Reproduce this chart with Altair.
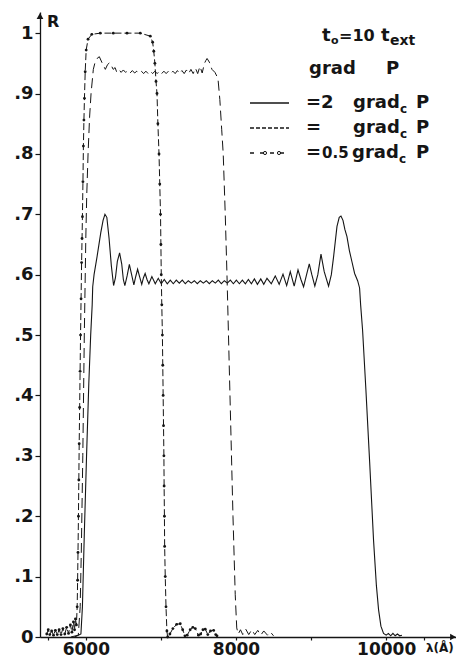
import altair as alt
import pandas as pd

# ---- data ----
# solid: grad P = 2 grad_c P
sol_lam = [5850, 5900, 5935, 5955, 5980, 6010, 6040, 6065, 6085, 6092, 6110, 6150, 6200, 6230, 6255,
           6280, 6310, 6340, 6370, 6395, 6420, 6450, 6478, 6500, 6520, 6550, 6580, 6610, 6640, 6665,
           6690, 6718, 6745, 6768, 6790, 6815, 6840, 6880, 6925, 6965, 7005, 7045, 7085, 7125, 7165,
           7205, 7245, 7285, 7325, 7365, 7405, 7445, 7485, 7525, 7565, 7605, 7645, 7685, 7725, 7765,
           7805, 7845, 7885, 7925, 7965, 8005, 8045, 8085, 8125, 8165, 8205, 8245, 8285, 8330, 8370,
           8413, 8470, 8523, 8575, 8626, 8675, 8723, 8775, 8826, 8865, 8900, 8940, 8976, 9010, 9050,
           9090, 9132, 9175, 9233, 9270, 9300, 9345, 9375, 9398, 9425, 9450, 9478, 9510, 9545, 9580,
           9620, 9646, 9660, 9686, 9730, 9780, 9832, 9870, 9899, 9930, 9965, 10000, 10030, 10060,
           10090, 10120, 10150, 10180, 10210]
sol_R = [0.0, 0.003, 0.005, 0.05, 0.17, 0.30, 0.42, 0.50, 0.55, 0.58, 0.60, 0.63, 0.67, 0.69, 0.70,
         0.695, 0.66, 0.615, 0.582, 0.595, 0.622, 0.636, 0.618, 0.592, 0.582, 0.598, 0.617, 0.600, 0.583, 0.597,
         0.609, 0.596, 0.584, 0.595, 0.602, 0.592, 0.585, 0.597, 0.585, 0.594, 0.585, 0.592, 0.585, 0.591, 0.585,
         0.591, 0.586, 0.591, 0.585, 0.590, 0.586, 0.590, 0.585, 0.590, 0.586, 0.590, 0.585, 0.590, 0.586, 0.591,
         0.585, 0.590, 0.586, 0.591, 0.585, 0.591, 0.585, 0.591, 0.585, 0.592, 0.585, 0.593, 0.584, 0.593, 0.584,
         0.594, 0.585, 0.598, 0.584, 0.601, 0.582, 0.605, 0.581, 0.608, 0.592, 0.580, 0.600, 0.618, 0.600, 0.581,
         0.600, 0.634, 0.605, 0.581, 0.600, 0.630, 0.680, 0.695, 0.697, 0.690, 0.675, 0.663, 0.640, 0.621, 0.602,
         0.590, 0.578, 0.550, 0.508, 0.410, 0.290, 0.160, 0.085, 0.045, 0.018, 0.006, 0.003, 0.006, 0.002,
         0.006, 0.002, 0.005, 0.002, 0.003]

# dashed: grad P = grad_c P
dsh_lam = [5800, 5900, 5925, 5940, 5960, 5980, 6000, 6012, 6030, 6050, 6070, 6100, 6120, 6150, 6180,
           6220, 6260, 6290, 6317, 6345, 6365, 6390, 6410, 6440, 6470, 6500, 6530, 6560, 6590, 6620,
           6650, 6680, 6710, 6740, 6770, 6800, 6830, 6860, 6890, 6920, 6950, 6980, 7010, 7040, 7070,
           7100, 7130, 7160, 7190, 7220, 7250, 7280, 7310, 7340, 7370, 7400, 7430, 7460, 7490, 7520,
           7550, 7580, 7600, 7615, 7645, 7680, 7720, 7760, 7785, 7810, 7830, 7857, 7880, 7920, 7960,
           7990, 8010, 8030, 8060, 8090, 8130, 8170, 8210, 8250, 8290, 8330, 8370, 8420, 8460, 8500]
dsh_R = [0.0, 0.003, 0.05, 0.14, 0.30, 0.50, 0.66, 0.73, 0.80, 0.86, 0.90, 0.94, 0.95, 0.958, 0.961,
         0.950, 0.940, 0.948, 0.951, 0.945, 0.940, 0.943, 0.936, 0.940, 0.935, 0.939, 0.935, 0.938, 0.934, 0.938,
         0.934, 0.937, 0.934, 0.937, 0.933, 0.937, 0.933, 0.937, 0.933, 0.937, 0.933, 0.937, 0.933, 0.937, 0.933,
         0.937, 0.933, 0.937, 0.933, 0.938, 0.933, 0.938, 0.933, 0.939, 0.933, 0.940, 0.933, 0.942, 0.933, 0.945,
         0.934, 0.950, 0.955, 0.958, 0.952, 0.940, 0.935, 0.925, 0.890, 0.840, 0.800, 0.700, 0.600, 0.400, 0.200,
         0.070, 0.015, 0.005, 0.012, 0.004, 0.013, 0.004, 0.012, 0.004, 0.011, 0.003, 0.010, 0.003, 0.008, 0.002]

# dash-dot with dots: grad P = 0.5 grad_c P
dd_lam = [5480, 5500, 5520, 5545, 5570, 5595, 5620, 5645, 5670, 5695, 5720, 5745, 5770, 5795, 5815,
          5835, 5850, 5862, 5875, 5885, 5891, 5896, 5902, 5907, 5912, 5918, 5924, 5930, 5937, 5944,
          5950, 5955, 5962, 5968, 5975, 5982, 5992, 6005, 6030, 6080, 6193, 6366, 6549, 6726, 6859,
          6890, 6905, 6920, 6935, 6948, 6960, 6975, 6985, 6995, 7000, 7005, 7012, 7020, 7025, 7030,
          7035, 7040, 7043, 7047, 7050, 7058, 7068, 7080, 7090, 7120, 7160, 7210, 7258, 7290, 7320,
          7350, 7390, 7425, 7458, 7500, 7530, 7560, 7591, 7625, 7660, 7702, 7730, 7747]
dd_R = [0.005, 0.012, 0.004, 0.010, 0.003, 0.011, 0.004, 0.012, 0.004, 0.014, 0.005, 0.016, 0.006, 0.020, 0.008,
        0.025, 0.012, 0.030, 0.020, 0.050, 0.094, 0.14, 0.20, 0.26, 0.32, 0.38, 0.44, 0.50, 0.56, 0.62,
        0.66, 0.696, 0.754, 0.813, 0.856, 0.892, 0.936, 0.972, 0.990, 0.998, 1.0, 1.0, 1.0, 1.0, 0.995,
        0.985, 0.970, 0.950, 0.920, 0.900, 0.850, 0.800, 0.750, 0.700, 0.650, 0.600, 0.550, 0.500, 0.450, 0.400,
        0.350, 0.300, 0.250, 0.200, 0.150, 0.100, 0.050, 0.010, 0.0, 0.005, 0.014, 0.021, 0.022, 0.012, 0.002,
        0.003, 0.012, 0.016, 0.014, 0.003, 0.005, 0.012, 0.013, 0.004, 0.010, 0.011, 0.004, 0.002]

x_ticks = [5500, 6000, 7000, 8000, 9000, 10000, 10500]
y_ticks = [0, 0.05, 0.1, 0.15, 0.2, 0.25, 0.3, 0.35, 0.4, 0.45, 0.5, 0.55, 0.6, 0.65, 0.7,
           0.75, 0.8, 0.85, 0.9, 0.95, 1.0]

INK = "#151515"
FONT = "DejaVu Sans"
W, H = 416, 625

xs = alt.Scale(domain=[5390, 10930], nice=False, zero=False)
ys = alt.Scale(domain=[0, 1.035], nice=False, zero=True)

xax = alt.Axis(values=x_ticks, labelExpr="datum.value % 2000 == 0 ? toString(datum.value) : ''",
               title=None, grid=False, domainColor=INK, domainWidth=1.3, tickColor=INK,
               tickSize=3, tickWidth=1.2, labelPadding=1, labelFont=FONT, labelFontWeight="bold",
               labelFontSize=17, labelColor=INK, labelFlush=False, labelOverlap=False)
yax = alt.Axis(values=y_ticks,
               labelExpr="datum.value == 0 ? '0' : (datum.value == 1 ? '1' : (round(datum.value*100) % 10 == 0 ? replace(format(datum.value, '.1f'), '0.', '.') : ''))",
               title=None, grid=False, domainColor=INK, domainWidth=1.3, tickColor=INK,
               tickSize=5, tickWidth=1.2, labelPadding=2, labelFont=FONT, labelFontWeight="bold",
               labelFontSize=18, labelColor=INK, labelOverlap=False)

sol = pd.DataFrame({"lam": sol_lam, "R": sol_R})
dsh = pd.DataFrame({"lam": dsh_lam, "R": dsh_R})
dd = pd.DataFrame({"lam": dd_lam, "R": dd_R})

enc = dict(x=alt.X("lam:Q", scale=xs, axis=xax), y=alt.Y("R:Q", scale=ys, axis=yax))
enc2 = dict(x=alt.X("lam:Q", scale=xs), y=alt.Y("R:Q", scale=ys))

l_sol = alt.Chart(sol).mark_line(color=INK, strokeWidth=1.1).encode(**enc)
l_dsh = alt.Chart(dsh).mark_line(color=INK, strokeWidth=1.0, strokeDash=[10, 5]).encode(**enc2)
l_dd = alt.Chart(dd).mark_line(color=INK, strokeWidth=1.0, strokeDash=[7, 3]).encode(**enc2)
p_dd = alt.Chart(dd).mark_point(color=INK, filled=True, size=8, opacity=1).encode(**enc2)

one = alt.Data(values=[{"a": 1}])
layers = [l_sol, l_dsh, l_dd, p_dd]

# axis arrows
layers.append(alt.Chart(one).mark_point(shape="triangle-up", filled=True, size=45, color=INK, opacity=1)
              .encode(x=alt.value(0), y=alt.value(4)))
layers.append(alt.Chart(one).mark_point(shape="triangle-right", filled=True, size=45, color=INK, opacity=1)
              .encode(x=alt.value(W - 3), y=alt.value(H)))

# legend samples
layers.append(alt.Chart(one).mark_rule(color=INK, strokeWidth=1.6)
              .encode(x=alt.value(210), x2=alt.value(249), y=alt.value(91)))
layers.append(alt.Chart(one).mark_rule(color=INK, strokeWidth=1.4, strokeDash=[4, 2])
              .encode(x=alt.value(210), x2=alt.value(249), y=alt.value(116)))
layers.append(alt.Chart(one).mark_rule(color=INK, strokeWidth=1.4, strokeDash=[4, 6])
              .encode(x=alt.value(210), x2=alt.value(249), y=alt.value(141)))
for cx in [225, 239]:
    layers.append(alt.Chart(one).mark_point(shape="circle", filled=False, size=10, color=INK,
                                            strokeWidth=1, opacity=1)
                  .encode(x=alt.value(cx), y=alt.value(141)))

# annotation texts (text, x, y, size)
ann = [
    ("t", 282, 29, 18), ("o", 291, 32, 11), ("=10", 299, 29, 16), ("t", 341, 29, 18), ("ext", 350, 33, 14),
    ("grad", 269, 62, 18), ("P", 346, 62, 18),
    ("=2", 266, 96, 18), ("grad", 313, 96, 18), ("c", 360, 101, 12), ("P", 376, 96, 18),
    ("=", 266, 121, 18), ("grad", 313, 121, 18), ("c", 360, 126, 12), ("P", 376, 121, 18),
    ("=", 266, 146, 18), ("0.5", 282, 146, 15), ("grad", 312, 146, 18), ("c", 359, 151, 12), ("P", 376, 146, 18),
    ("R", 7, 15, 16), ("λ(Å)", 386, 640, 12),
]
for t, ax_, ay_, sz in ann:
    layers.append(alt.Chart(one).mark_text(text=t, align="left", baseline="alphabetic", font=FONT,
                                           fontWeight="bold", fontSize=sz, color=INK)
                  .encode(x=alt.value(ax_), y=alt.value(ay_)))

chart = alt.layer(*layers).properties(
    width=W, height=H,
    padding={"left": 32, "top": 4, "right": 0, "bottom": 22},
    autosize=alt.AutoSizeParams(type="none"),
    background="white",
).configure_view(stroke=None)

chart.save("out.html", embed_options={"renderer": "svg", "actions": False})
